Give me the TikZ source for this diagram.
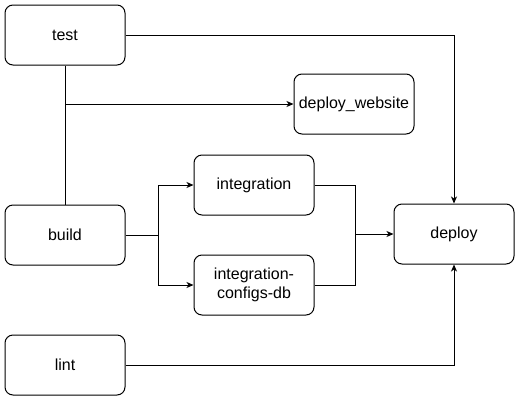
\documentclass[tikz,border=0pt]{standalone}
\usepackage{fontspec}
\setmainfont{Liberation Sans}
\usetikzlibrary{arrows.meta}

\tikzset{
    job/.style={draw, rounded corners=8pt, minimum width=120pt, minimum height=60pt,
        align=center, font=\fontsize{16}{18.5}\selectfont, inner sep=1pt, line width=1pt},
    link/.style={line width=1pt},
    flow/.style={link, -{Stealth[length=7pt, width=6pt, inset=2pt]}}
}

\begin{document}
\begin{tikzpicture}[x=1pt, y=-1pt]
    \useasboundingbox (0, 0) rectangle (520, 400);
    
    \node[job] (test) at (65, 35) {test};
    \node[job] (build) at (65, 235) {build};
    \node[job] (lint) at (65, 365) {lint};
    \node[job] (website) at (354, 104) {deploy\_website};
    \node[job] (integration) at (254, 185) {integration};
    \node[job] (configs) at (254, 285) {integration-\\configs-db};
    \node[job] (deploy) at (454, 234) {deploy};
    
    \coordinate (fork) at (65, 104);
    \coordinate (split) at (158, 235);
    \coordinate (join) at (355, 234);
    
    \draw[flow] (test.east) -| (deploy.north);
    \draw[link] (test.south) -- (build.north);
    \draw[flow] (fork) -- (website.west);
    \draw[link] (build.east) -- (split);
    \draw[flow] (split) |- (integration.west);
    \draw[flow] (split) |- (configs.west);
    \draw[link] (integration.east) -| (join);
    \draw[link] (configs.east) -| (join);
    \draw[flow] (join) -- (deploy.west);
    \draw[flow] (lint.east) -| (deploy.south);
    
\end{tikzpicture}
\end{document}
